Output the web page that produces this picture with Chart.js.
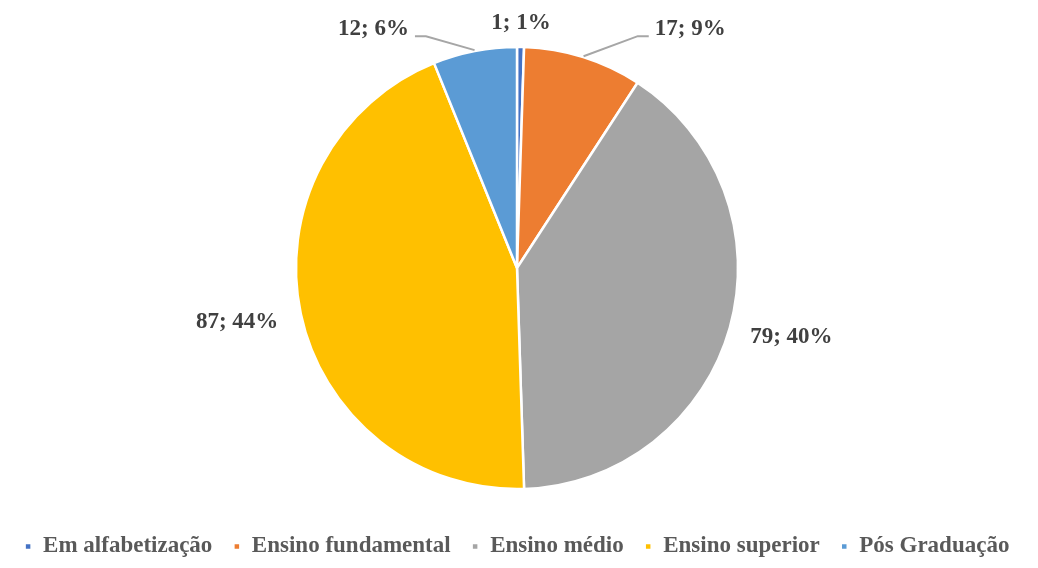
<!DOCTYPE html>
<html>
<head>
<meta charset="utf-8">
<script src="https://cdn.jsdelivr.net/npm/chart.js@4.4.1/dist/chart.umd.min.js"></script>
<style>
  html, body { margin: 0; padding: 0; background: #fff; }
  #wrap { width: 1038px; height: 568px; }
</style>
</head>
<body>
<div id="wrap"><canvas id="myChart"></canvas></div>
<script>
// Escolaridade
const categories = ['Em alfabetização', 'Ensino fundamental', 'Ensino médio', 'Ensino superior', 'Pós Graduação'];
const counts = [1, 17, 79, 87, 12];
const percentLabels = ['1%', '9%', '40%', '44%', '6%'];
const sliceColors = ['#4472C4', '#ED7D31', '#A5A5A5', '#FFC000', '#5B9BD5'];

// label placement: angle shift (deg, clockwise) from slice middle, distance as factor of radius, leader line
const labelPlacement = [
  { shift: 0, dist: 1.11, leader: false },
  { shift: 18.5, dist: 1.335, leader: true },
  { shift: -1.5, dist: 1.28, leader: false },
  { shift: 1, dist: 1.29, leader: false },
  { shift: -20, dist: 1.26, leader: true }
];

const sliceLabels = {
  id: 'sliceLabels',
  afterDatasetsDraw(chart) {
    const ctx = chart.ctx;
    const arcs = chart.getDatasetMeta(0).data;
    ctx.save();
    ctx.font = 'bold 23px "Liberation Serif", "Times New Roman", serif';
    ctx.textAlign = 'center';
    ctx.textBaseline = 'middle';
    arcs.forEach((arc, i) => {
      const p = labelPlacement[i];
      const mid = (arc.startAngle + arc.endAngle) / 2;
      const a = mid + p.shift * Math.PI / 180;
      const r = arc.outerRadius * p.dist;
      const lx = arc.x + Math.cos(a) * r;
      const ly = arc.y + Math.sin(a) * r;
      const text = counts[i] + '; ' + percentLabels[i];
      if (p.leader) {
        const w = ctx.measureText(text).width;
        const side = Math.cos(a) >= 0 ? -1 : 1;
        const ex = lx + side * (w / 2 + 6);
        const ey = ly + 7;
        const bx = ex + side * 11;
        const sx = arc.x + Math.cos(mid) * (arc.outerRadius + 1);
        const sy = arc.y + Math.sin(mid) * (arc.outerRadius + 1);
        ctx.strokeStyle = '#A6A6A6';
        ctx.lineWidth = 2;
        ctx.beginPath();
        ctx.moveTo(ex, ey);
        ctx.lineTo(bx, ey);
        ctx.lineTo(sx, sy);
        ctx.stroke();
      }
      ctx.fillStyle = '#404040';
      ctx.fillText(text, lx, ly);
    });
    ctx.restore();
  }
};

const canvasElement = document.getElementById('myChart');
const ctx = canvasElement.getContext('2d');

const myChart = new Chart(ctx, {
  type: 'pie',
  data: {
    labels: categories,
    datasets: [{
      data: counts,
      backgroundColor: sliceColors,
      borderColor: '#ffffff',
      borderWidth: 2.5,
      radius: 221
    }]
  },
  options: {
    responsive: true,
    maintainAspectRatio: false,
    animation: false,
    layout: { padding: { top: 22, right: 4 } },
    plugins: {
      tooltip: { enabled: false },
      legend: {
        position: 'bottom',
        labels: {
          usePointStyle: true,
          pointStyle: 'rect',
          boxWidth: 7,
          boxHeight: 7,
          padding: 21,
          color: '#595959',
          font: { family: '"Liberation Serif", "Times New Roman", serif', size: 23, weight: 'bold' }
        }
      }
    }
  },
  plugins: [sliceLabels]
});
</script>
</body>
</html>
